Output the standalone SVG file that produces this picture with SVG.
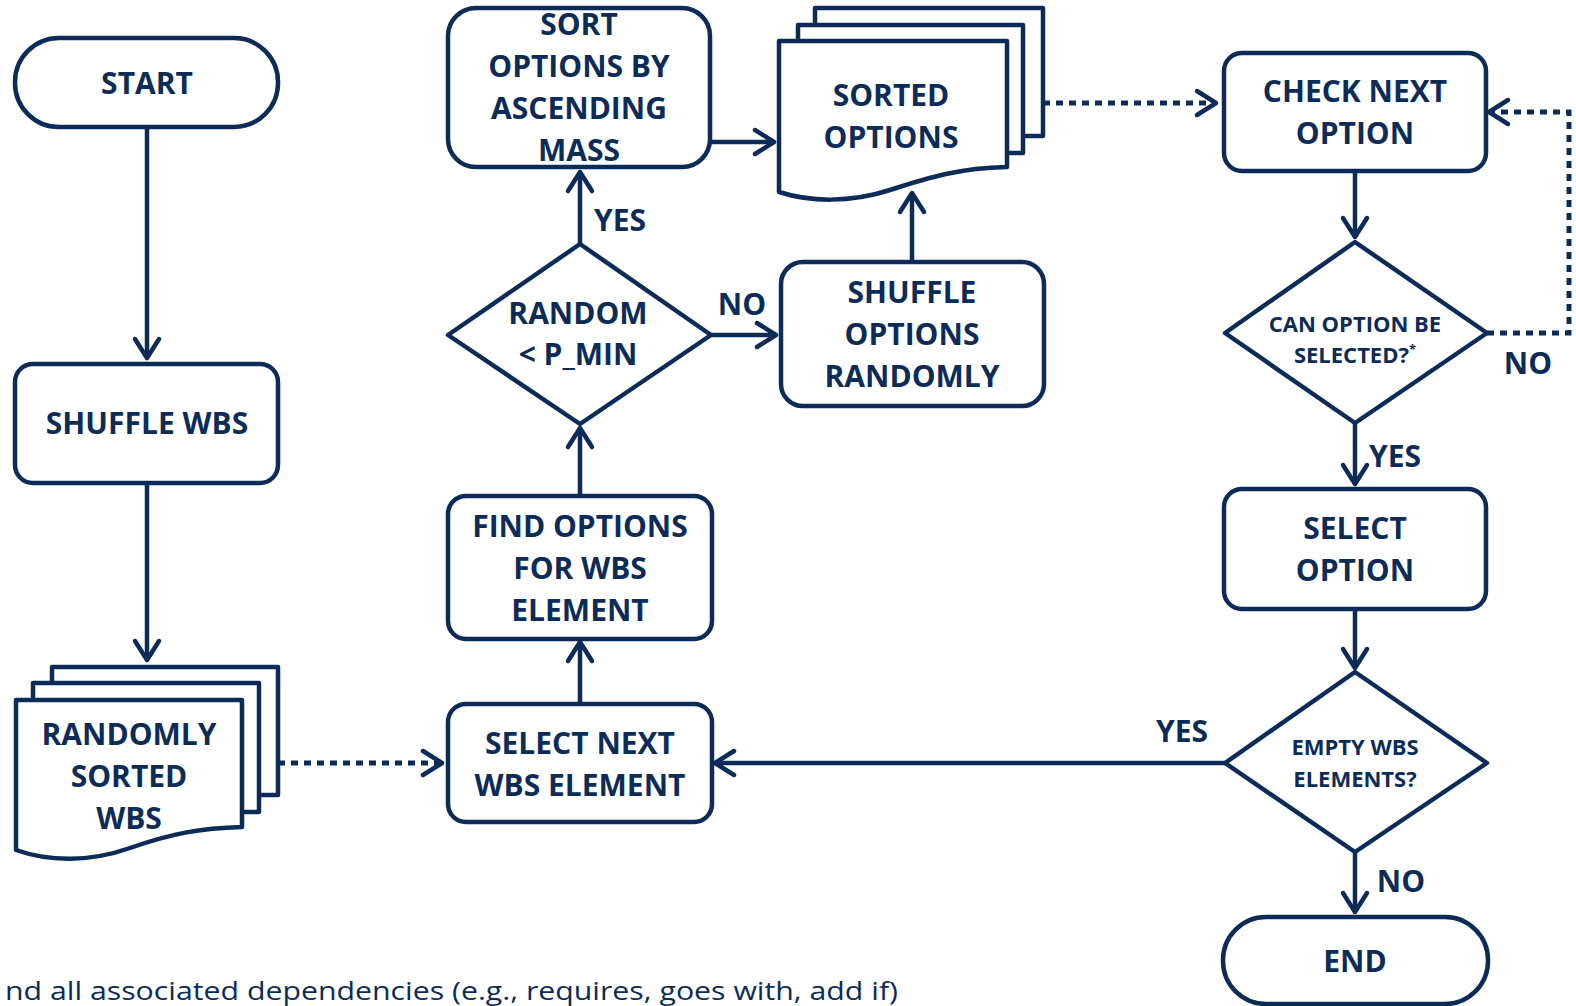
<svg xmlns="http://www.w3.org/2000/svg" width="1576" height="1006" viewBox="0 0 1576 1006">
<style>
.n{fill:#fff;stroke:#0c2c57;stroke-width:4.5;stroke-linejoin:round}
.t{font-family:"Open Sans","Noto Sans",sans-serif;font-weight:700;font-size:30px;fill:#0c2c57;text-anchor:middle}
.s{font-size:22px}
.c{fill:none;stroke:#0c2c57;stroke-width:4.5}
.d{fill:none;stroke:#0c2c57;stroke-width:5;stroke-dasharray:7 6}
</style>
<defs>
<marker id="a" markerUnits="userSpaceOnUse" viewBox="-4 -16 28 32" markerWidth="28" markerHeight="32" refX="19" refY="0" orient="auto" overflow="visible">
<path d="M0,-12 L19,0 L0,12" fill="none" stroke="#0c2c57" stroke-width="4.5" stroke-linecap="round" stroke-linejoin="round"/>
</marker>
</defs>
<rect width="1576" height="1006" fill="#fff"/>
<g id="connectors">
<path class="c" d="M147,127 V358" marker-end="url(#a)"/>
<path class="c" d="M147,483 V660" marker-end="url(#a)"/>
<path class="d" d="M278,763 H442" marker-end="url(#a)"/>
<path class="c" d="M580,704 V642" marker-end="url(#a)"/>
<path class="c" d="M580,496 V428" marker-end="url(#a)"/>
<path class="c" d="M580,244 V172" marker-end="url(#a)"/>
<path class="c" d="M711,335 H776" marker-end="url(#a)"/>
<path class="c" d="M710,142 H774" marker-end="url(#a)"/>
<path class="c" d="M912,262 V193" marker-end="url(#a)"/>
<path class="d" d="M1043,103 H1216" marker-end="url(#a)"/>
<path class="c" d="M1355,171 V237" marker-end="url(#a)"/>
<path class="d" d="M1487,333 H1569 V112 H1489" marker-end="url(#a)"/>
<path class="c" d="M1355,423 V484" marker-end="url(#a)"/>
<path class="c" d="M1355,609 V668" marker-end="url(#a)"/>
<path class="c" d="M1225,763 H715" marker-end="url(#a)"/>
<path class="c" d="M1355,852 V912" marker-end="url(#a)"/>
<text class="t" x="620" y="231">YES</text>
<text class="t" x="742" y="315">NO</text>
<text class="t" x="1528" y="374">NO</text>
<text class="t" x="1395" y="467">YES</text>
<text class="t" x="1182" y="742">YES</text>
<text class="t" x="1401" y="892">NO</text>
</g>
<g id="start">
<rect class="n" x="15" y="38" width="263" height="89" rx="44"/>
<text class="t" x="147" y="94">START</text>
</g>
<g id="shuffle-wbs">
<rect class="n" x="15" y="364" width="263" height="119" rx="18"/>
<text class="t" x="147" y="434">SHUFFLE WBS</text>
</g>
<g id="randomly-sorted-wbs">
<rect class="n" x="52" y="667" width="226" height="128"/>
<rect class="n" x="33" y="683" width="226" height="129"/>
<path class="n" d="M16,700 H242 V827 C200,828 170,834 130,848 C90,862 50,862 16,850 Z"/>
<text class="t" x="129" y="745">RANDOMLY</text>
<text class="t" x="129" y="787">SORTED</text>
<text class="t" x="129" y="829">WBS</text>
</g>
<g id="select-next">
<rect class="n" x="448" y="704" width="264" height="118" rx="18"/>
<text class="t" x="580" y="754">SELECT NEXT</text>
<text class="t" x="580" y="796">WBS ELEMENT</text>
</g>
<g id="find-options">
<rect class="n" x="448" y="496" width="264" height="143" rx="18"/>
<text class="t" x="580" y="537">FIND OPTIONS</text>
<text class="t" x="580" y="579">FOR WBS</text>
<text class="t" x="580" y="621">ELEMENT</text>
</g>
<g id="random-pmin">
<path class="n" d="M580,244 L711,335 L580,424 L448,335 Z"/>
<text class="t" x="578" y="324">RANDOM</text>
<text class="t" x="578" y="365">&lt; P_MIN</text>
</g>
<g id="sort-options">
<rect class="n" x="448" y="8" width="262" height="159" rx="28"/>
<text class="t" x="579" y="35">SORT</text>
<text class="t" x="579" y="77">OPTIONS BY</text>
<text class="t" x="579" y="119">ASCENDING</text>
<text class="t" x="579" y="161">MASS</text>
</g>
<g id="sorted-options">
<rect class="n" x="815" y="8" width="228" height="128"/>
<rect class="n" x="798" y="25" width="225" height="128"/>
<path class="n" d="M779,41 H1007 V167 C960,168 930,177 890,190 C850,203 810,202 779,192 Z"/>
<text class="t" x="891" y="106">SORTED</text>
<text class="t" x="891" y="148">OPTIONS</text>
</g>
<g id="shuffle-options">
<rect class="n" x="781" y="262" width="263" height="144" rx="22"/>
<text class="t" x="912" y="303">SHUFFLE</text>
<text class="t" x="912" y="345">OPTIONS</text>
<text class="t" x="912" y="387">RANDOMLY</text>
</g>
<g id="check-next">
<rect class="n" x="1224" y="53" width="262" height="118" rx="18"/>
<text class="t" x="1355" y="102">CHECK NEXT</text>
<text class="t" x="1355" y="144">OPTION</text>
</g>
<g id="can-option">
<path class="n" d="M1355,242 L1487,333 L1355,423 L1225,333 Z"/>
<text class="t s" x="1355" y="332">CAN OPTION BE</text>
<text class="t s" x="1355" y="363">SELECTED?<tspan font-size="13" dy="-9">*</tspan></text>
</g>
<g id="select-option">
<rect class="n" x="1224" y="489" width="262" height="120" rx="18"/>
<text class="t" x="1355" y="539">SELECT</text>
<text class="t" x="1355" y="581">OPTION</text>
</g>
<g id="empty-wbs">
<path class="n" d="M1355,672 L1487,763 L1355,852 L1225,763 Z"/>
<text class="t s" x="1355" y="755">EMPTY WBS</text>
<text class="t s" x="1355" y="787">ELEMENTS?</text>
</g>
<g id="end">
<rect class="n" x="1223" y="917" width="265" height="87" rx="43"/>
<text class="t" x="1355" y="972">END</text>
</g>
<text x="5" y="1000" font-family="'Open Sans','Noto Sans',sans-serif" font-size="25" fill="#0c2c57" textLength="893" lengthAdjust="spacingAndGlyphs">nd all associated dependencies (e.g., requires, goes with, add if)</text>
</svg>
